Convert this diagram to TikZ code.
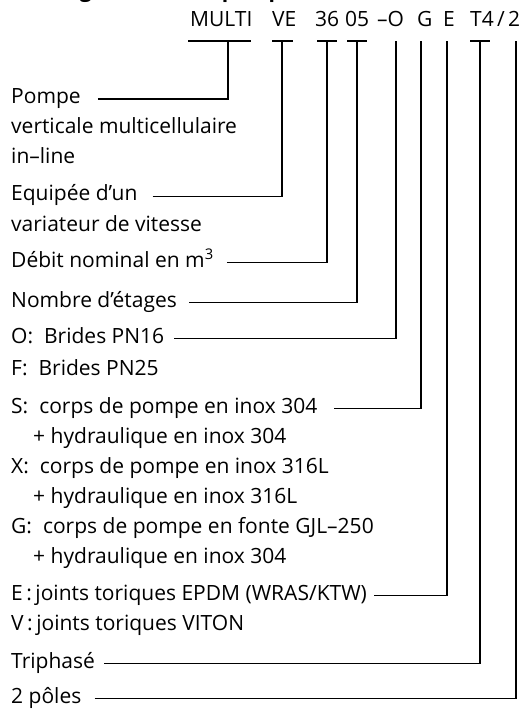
\documentclass[tikz,border=0pt]{standalone}
\usepackage{fontspec}
\setmainfont{Open Sans}
\tikzset{
  txt/.style={anchor=base west, inner sep=0pt, font=\fontsize{21}{25}\selectfont},
  link/.style={line width=1.4pt},
}
\begin{document}
\begin{tikzpicture}[x=1pt,y=-1pt]
		\clip (0,0) rectangle (523,711);
		%title (cut by the page)
		\node[txt, font=\fontsize{21}{25}\selectfont\bfseries] (title) at (35,-2) {Désignation de la pompe};
		%type code
		\node[txt] (cmulti) at (190,27) {MULTI};
		\node[txt] (cve) at (272,27) {VE};
		\node[txt] (cdebit) at (315,27) {36};
		\node[txt] (cetages) at (345,27) {05};
		\node[txt] (cbride) at (377,27) {–O};
		\node[txt] (ccorps) at (417,27) {G};
		\node[txt] (cjoint) at (443,27) {E};
		\node[txt] (cmoteur) at (470,27) {T4};
		\node[txt] (cslash) at (497,27) {/};
		\node[txt] (cpoles) at (508,27) {2};
		%bars under the code
		\draw[link] (188,41) -- (251,41);
		\draw[link] (272,41) -- (293,41);
		\draw[link] (317,41) -- (337,41);
		\draw[link] (347,41) -- (367,41);
		\draw[link] (470,41) -- (490,41);
		\coordinate (tmulti) at (228,41);
		\coordinate (tve) at (282,41);
		\coordinate (tdebit) at (327,41);
		\coordinate (tetages) at (357,41);
		\coordinate (tbride) at (396,41);
		\coordinate (tcorps) at (421,41);
		\coordinate (tjoint) at (447,41);
		\coordinate (tmoteur) at (480,41);
		\coordinate (tpoles) at (516,41);
		%explanations
		\node[txt] (pompe) at (11,103.5) {Pompe};
		\node[txt] at (11,133.5) {verticale multicellulaire};
		\node[txt] at (11,163.5) {in–line};
		\node[txt] (equip) at (11,201) {Equipée d’un};
		\node[txt] at (11,231) {variateur de vitesse};
		\node[txt] (debit) at (11,267) {Débit nominal en m\textsuperscript{3}};
		\node[txt] (etages) at (11,307) {Nombre d’étages};
		\node[txt] (bride) at (11,343) {O:\hspace{11pt}Brides PN16};
		\node[txt] at (11,375) {F:\hspace{11pt}Brides PN25};
		\node[txt] (corps) at (11,413) {S:\hspace{11pt}corps de pompe en inox 304};
		\node[txt] at (33,443) {+ hydraulique en inox 304};
		\node[txt] at (11,473) {X:\hspace{11pt}corps de pompe en inox 316L};
		\node[txt] at (33,503) {+ hydraulique en inox 316L};
		\node[txt] at (11,533) {G:\hspace{11pt}corps de pompe en fonte GJL–250};
		\node[txt] at (33,563) {+ hydraulique en inox 304};
		\node[txt] (joint) at (11,600) {E\,:\,joints toriques EPDM (WRAS/KTW)};
		\node[txt] at (11,630) {V\,:\,joints toriques VITON};
		\node[txt] (moteur) at (11,668) {Triphasé};
		\node[txt] (poles) at (11,703) {2 pôles};
		%connectors
		\draw[link] ([xshift=17pt,yshift=4.5pt]pompe.base east) -| (tmulti);
		\draw[link] ([xshift=15pt,yshift=4.5pt]equip.base east) -| (tve);
		\draw[link] ([xshift=13pt,yshift=4.5pt]debit.base east) -| (tdebit);
		\draw[link] ([xshift=12pt,yshift=4.5pt]etages.base east) -| (tetages);
		\draw[link] ([xshift=10pt,yshift=4.5pt]bride.base east) -| (tbride);
		\draw[link] ([xshift=17pt,yshift=4.5pt]corps.base east) -| (tcorps);
		\draw[link] ([xshift=7pt,yshift=4.5pt]joint.base east) -| (tjoint);
		\draw[link] ([xshift=9pt,yshift=4.5pt]moteur.base east) -| (tmoteur);
		\draw[link] ([xshift=13pt,yshift=4.5pt]poles.base east) -| (tpoles);
	\end{tikzpicture}
\end{document}
